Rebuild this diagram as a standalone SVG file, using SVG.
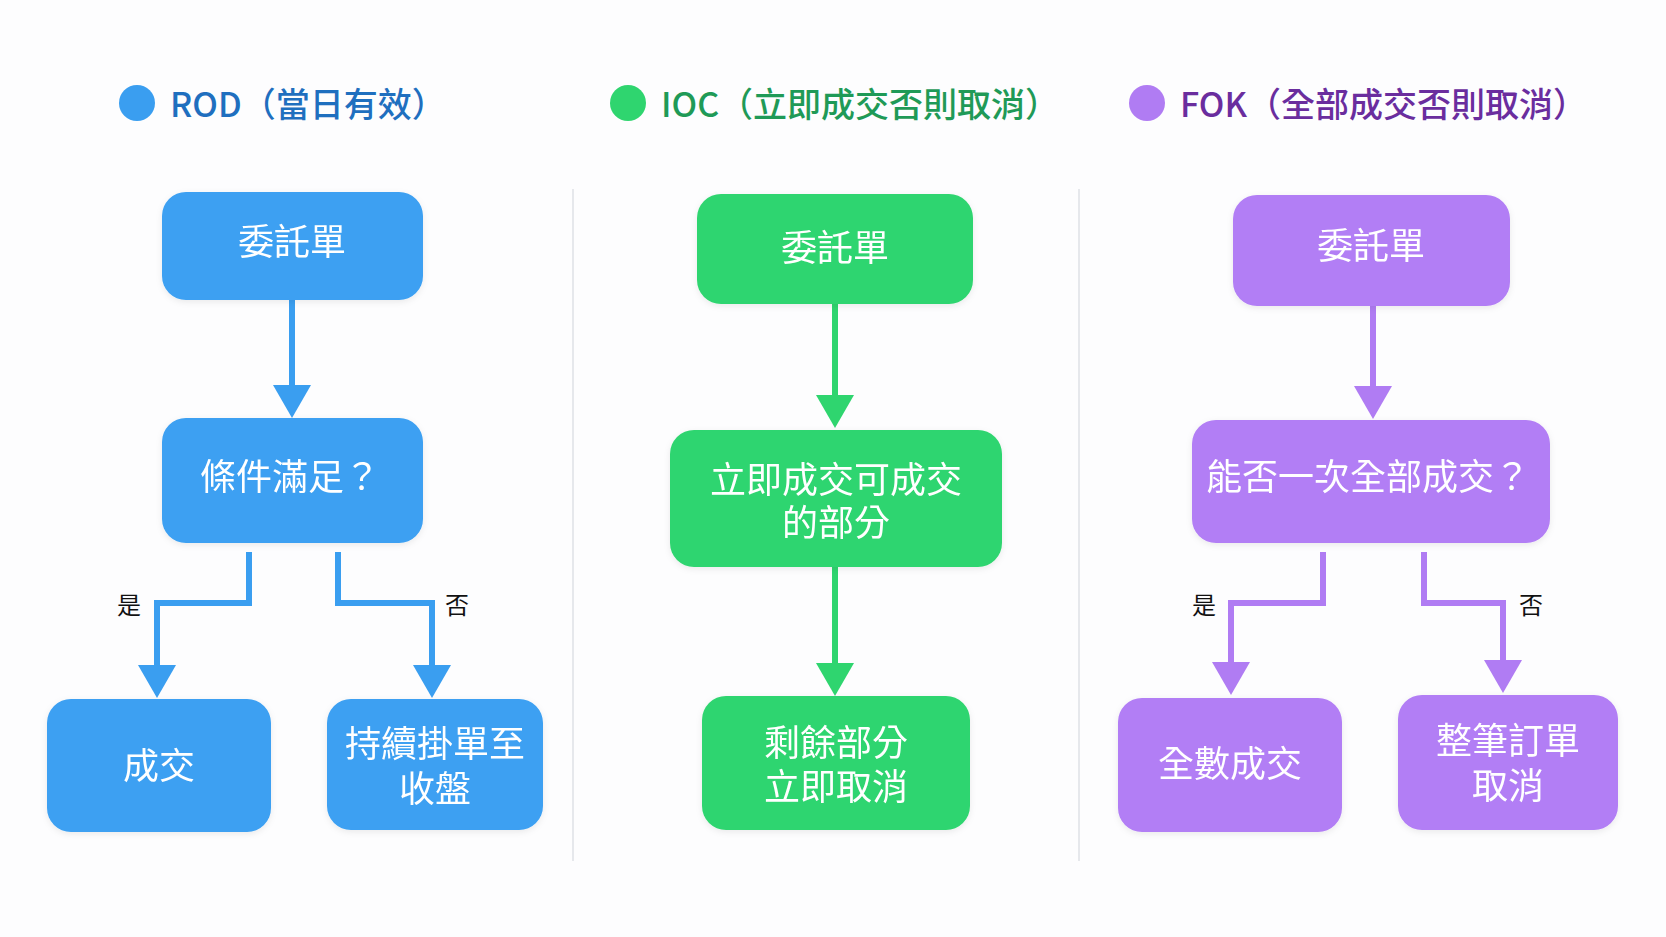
<svg xmlns="http://www.w3.org/2000/svg" width="1666" height="937" viewBox="0 0 1666 937">
<style>
  text { font-family: "Noto Sans CJK TC", "Noto Sans", sans-serif; }
  .title { font-size: 34px; dominant-baseline: central; font-weight: 500; }
  .node { font-size: 36px; fill: #ffffff; text-anchor: middle; dominant-baseline: central; }
  .lbl { font-size: 24px; fill: #111111; text-anchor: middle; dominant-baseline: central; }
  .blue { fill: #3ca0f2; }
  .green { fill: #2fd56f; }
  .purple { fill: #b27ef5; }
  .c { fill: none; stroke-width: 6; }
  .cb { stroke: #3a9ef0; }
  .cg { stroke: #2fd56f; }
  .cp { stroke: #b07cf3; }
  .div { stroke: #e6e8ec; stroke-width: 2; }
</style>
<defs>
  <filter id="sh" x="-10%" y="-10%" width="120%" height="130%">
    <feDropShadow dx="0" dy="2" stdDeviation="3" flood-color="#000" flood-opacity="0.08"/>
  </filter>
  <marker id="ab" viewBox="0 0 33 38" refX="23" refY="19" markerWidth="33" markerHeight="38" markerUnits="userSpaceOnUse" orient="auto">
    <polygon points="0,0 33,19 0,38" fill="#3a9ef0"/>
  </marker>
  <marker id="ag" viewBox="0 0 33 38" refX="23" refY="19" markerWidth="33" markerHeight="38" markerUnits="userSpaceOnUse" orient="auto">
    <polygon points="0,0 33,19 0,38" fill="#2fd56f"/>
  </marker>
  <marker id="ap" viewBox="0 0 33 38" refX="23" refY="19" markerWidth="33" markerHeight="38" markerUnits="userSpaceOnUse" orient="auto">
    <polygon points="0,0 33,19 0,38" fill="#b07cf3"/>
  </marker>
</defs>
<rect x="0" y="0" width="1666" height="937" fill="#fdfdfe"/>

<g id="dividers">
  <line class="div" x1="573" y1="189" x2="573" y2="861"/>
  <line class="div" x1="1079" y1="189" x2="1079" y2="861"/>
</g>

<g id="title-rod">
  <circle cx="137" cy="103" r="18" fill="#3a9ef0"/>
  <text class="title" x="170" y="102" fill="#1f6fbf">ROD（當日有效）</text>
</g>
<g id="title-ioc">
  <circle cx="628" cy="103" r="18" fill="#2fd56f"/>
  <text class="title" x="661" y="102" fill="#1f9a57">IOC（立即成交否則取消）</text>
</g>
<g id="title-fok">
  <circle cx="1147" cy="103" r="18" fill="#b07cf3"/>
  <text class="title" x="1180" y="102" fill="#6a2d9e">FOK（全部成交否則取消）</text>
</g>

<g id="connectors">
  <path class="c cb" d="M292 300 V408" marker-end="url(#ab)"/>
  <path class="c cb" d="M249 552 V603 H157 V688" marker-end="url(#ab)"/>
  <path class="c cb" d="M338 552 V603 H432 V688" marker-end="url(#ab)"/>
  <path class="c cg" d="M835 304 V418" marker-end="url(#ag)"/>
  <path class="c cg" d="M835 567 V686" marker-end="url(#ag)"/>
  <path class="c cp" d="M1373 306 V409" marker-end="url(#ap)"/>
  <path class="c cp" d="M1323 552 V603 H1231 V685" marker-end="url(#ap)"/>
  <path class="c cp" d="M1424 552 V603 H1503 V683" marker-end="url(#ap)"/>
  <text class="lbl" x="129" y="603">是</text>
  <text class="lbl" x="457" y="603">否</text>
  <text class="lbl" x="1204" y="603">是</text>
  <text class="lbl" x="1531" y="603">否</text>
</g>

<g id="rod-order" filter="url(#sh)">
  <rect class="blue" x="162" y="192" width="261" height="108" rx="24"/>
  <text class="node" x="292" y="239">委託單</text>
</g>
<g id="rod-cond" filter="url(#sh)">
  <rect class="blue" x="162" y="418" width="261" height="125" rx="24"/>
  <text class="node" x="290" y="474">條件滿足？</text>
</g>
<g id="rod-fill" filter="url(#sh)">
  <rect class="blue" x="47" y="699" width="224" height="133" rx="24"/>
  <text class="node" x="159" y="763">成交</text>
</g>
<g id="rod-keep" filter="url(#sh)">
  <rect class="blue" x="327" y="699" width="216" height="131" rx="24"/>
  <text class="node" x="435" y="741">持續掛單至</text>
  <text class="node" x="435" y="786">收盤</text>
</g>

<g id="ioc-order" filter="url(#sh)">
  <rect class="green" x="697" y="194" width="276" height="110" rx="24"/>
  <text class="node" x="835" y="245">委託單</text>
</g>
<g id="ioc-fill" filter="url(#sh)">
  <rect class="green" x="670" y="430" width="332" height="137" rx="24"/>
  <text class="node" x="836" y="477">立即成交可成交</text>
  <text class="node" x="836" y="520">的部分</text>
</g>
<g id="ioc-cancel" filter="url(#sh)">
  <rect class="green" x="702" y="696" width="268" height="134" rx="24"/>
  <text class="node" x="836" y="740">剩餘部分</text>
  <text class="node" x="836" y="784">立即取消</text>
</g>

<g id="fok-order" filter="url(#sh)">
  <rect class="purple" x="1233" y="195" width="277" height="111" rx="24"/>
  <text class="node" x="1371" y="243">委託單</text>
</g>
<g id="fok-cond" filter="url(#sh)">
  <rect class="purple" x="1192" y="420" width="358" height="123" rx="24"/>
  <text class="node" x="1368" y="474">能否一次全部成交？</text>
</g>
<g id="fok-fill" filter="url(#sh)">
  <rect class="purple" x="1118" y="698" width="224" height="134" rx="24"/>
  <text class="node" x="1230" y="761">全數成交</text>
</g>
<g id="fok-cancel" filter="url(#sh)">
  <rect class="purple" x="1398" y="695" width="220" height="135" rx="24"/>
  <text class="node" x="1508" y="738">整筆訂單</text>
  <text class="node" x="1508" y="783">取消</text>
</g>
</svg>
